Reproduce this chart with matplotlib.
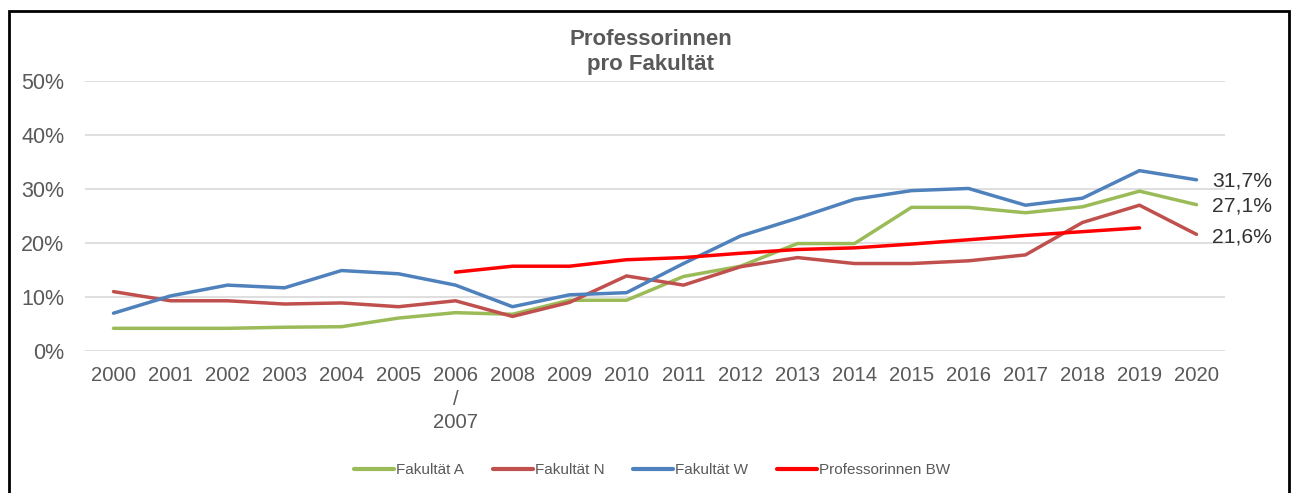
import numpy as np
import matplotlib.pyplot as plt
from matplotlib.patches import Rectangle

plt.rcParams['font.family'] = ['Liberation Sans', 'DejaVu Sans']

# Kategorien (x-Achse)
jahre = ["2000", "2001", "2002", "2003", "2004", "2005", "2006\n/\n2007", "2008", "2009",
         "2010", "2011", "2012", "2013", "2014", "2015", "2016", "2017", "2018", "2019", "2020"]

# Anteile in Prozent
fak_a = [4.2, 4.2, 4.2, 4.4, 4.5, 6.1, 7.1, 6.8, 9.4, 9.4, 13.8, 15.7, 19.9, 19.9, 26.6, 26.6, 25.6, 26.7, 29.6, 27.1]
fak_n = [11.0, 9.3, 9.3, 8.7, 8.9, 8.2, 9.3, 6.4, 9.0, 13.9, 12.2, 15.6, 17.3, 16.2, 16.2, 16.7, 17.8, 23.8, 27.0, 21.6]
fak_w = [7.0, 10.2, 12.2, 11.7, 14.9, 14.3, 12.2, 8.2, 10.4, 10.8, 16.2, 21.3, 24.6, 28.1, 29.7, 30.1, 27.0, 28.3, 33.4, 31.7]
prof_bw = [None, None, None, None, None, None, 14.6, 15.7, 15.7, 16.9, 17.3, 18.1, 18.8, 19.1, 19.8, 20.6, 21.4, 22.1, 22.8, None]

x = np.arange(len(jahre))

fig = plt.figure(figsize=(12.93, 4.93), dpi=100)
ax = fig.add_axes([85 / 1293, 142 / 493, 1140 / 1293, 270 / 493])

lw = 2.5
bw = np.array([np.nan if v is None else v for v in prof_bw], dtype=float)
l_a, = ax.plot(x, fak_a, color="#9BBB59", lw=lw, label="Fakultät A", solid_capstyle="round")
l_n, = ax.plot(x, fak_n, color="#C0504D", lw=lw, label="Fakultät N", solid_capstyle="round")
l_w, = ax.plot(x, fak_w, color="#4F81BD", lw=lw, label="Fakultät W", solid_capstyle="round")
l_bw, = ax.plot(x, bw, color="#FF0000", lw=lw, label="Professorinnen BW", solid_capstyle="round")

# Endwerte 2020
for serie, dy in ((fak_w, -1), (fak_a, -1), (fak_n, -2)):
    ax.annotate(f"{serie[-1]:.1f}%".replace(".", ","), (x[-1], serie[-1]),
                xytext=(11, dy), textcoords="offset points", va="center", ha="left",
                fontsize=15.2, color="#333333", annotation_clip=False)

ax.set_xlim(-0.5, len(jahre) - 0.5)
ax.set_ylim(0, 50)
ax.set_yticks(range(0, 51, 10))
ax.set_yticklabels([f"{v}%" for v in range(0, 51, 10)])
ax.set_xticks(x)
ax.set_xticklabels(jahre, linespacing=1.3)
ax.tick_params(axis="both", length=0, labelcolor="#595959")
ax.tick_params(axis="y", pad=15, labelsize=15.5)
ax.tick_params(axis="x", pad=11, labelsize=14.6)
ax.grid(axis="y", color="#D9D9D9", lw=1.2)
ax.set_axisbelow(True)
for s in ax.spines.values():
    s.set_visible(False)

fig.text(0.503, 1 - 52 / 493, "Professorinnen\npro Fakultät", ha="center", va="center",
         fontsize=16, fontweight="bold", color="#595959", linespacing=1.3)

leg = fig.legend(handles=[l_a, l_n, l_w, l_bw], loc="center", bbox_to_anchor=(652 / 1293, 1 - 470 / 493),
                 ncol=4, frameon=False, handlelength=2.6, handletextpad=0.13,
                 columnspacing=1.9, labelcolor="#595959", prop={"size": 11})
for h in leg.legend_handles:
    h.set_linewidth(3)

# schwarzer Rahmen
fig.patches.append(Rectangle((9 / 1293, -0.05), 1280 / 1293, 1 - 11 / 493 + 0.05,
                             transform=fig.transFigure, fill=False, edgecolor="black", lw=2))

fig.savefig("out.png", dpi=100)
